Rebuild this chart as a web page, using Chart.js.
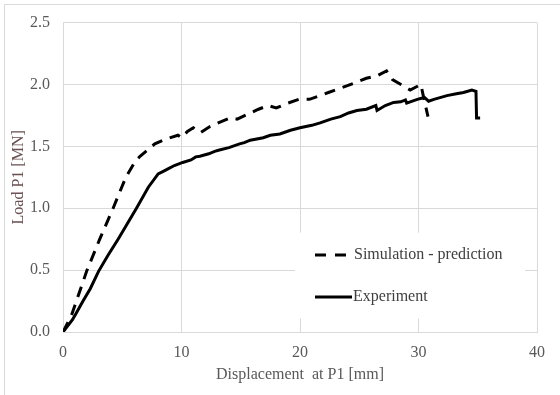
<!DOCTYPE html>
<html>
<head>
<meta charset="utf-8">
<script src="https://cdn.jsdelivr.net/npm/chart.js@4.4.1/dist/chart.umd.min.js"></script>
<style>
  html, body { margin: 0; padding: 0; background: #ffffff; }
  #wrap { width: 560px; height: 395px; position: relative; }
</style>
</head>
<body>
<div id="wrap"><canvas id="c" width="560" height="395"></canvas></div>
<script>
// ---- Data ----
const simX = [0, 0.7, 1.13, 2.03, 3.1, 4.23, 5.3, 6.1, 6.5, 7.0, 7.75, 8.7, 9.7, 10.0, 10.5, 11.0, 11.6, 12.4, 13.1, 14.1, 14.7, 15.6, 16.5, 17.3, 18.0, 19.0, 19.9, 20.8, 22.4, 24.0, 25.6, 26.5, 27.3, 27.8, 28.7, 29.3, 30.2, 30.4, 30.8];
const simY = [0, 0.13, 0.25, 0.5, 0.75, 1.0, 1.25, 1.38, 1.42, 1.46, 1.52, 1.56, 1.59, 1.57, 1.62, 1.65, 1.61, 1.66, 1.69, 1.73, 1.72, 1.76, 1.80, 1.83, 1.81, 1.85, 1.88, 1.88, 1.935, 1.99, 2.05, 2.07, 2.11, 2.04, 1.99, 1.955, 2.0, 1.91, 1.74];

const expX = [0, 0.8, 1.1, 1.69, 2.3, 3.0, 3.8, 4.65, 5.4, 6.2, 7.2, 8.03, 8.5, 8.9, 9.4, 10.1, 10.8, 11.2, 11.55, 12.3, 12.8, 13.2, 14.0, 14.9, 15.3, 15.8, 16.9, 17.5, 18.3, 19.2, 20.0, 21.0, 21.7, 22.3, 22.6, 23.4, 24.1, 24.8, 25.6, 26.4, 26.5, 27.2, 27.9, 28.5, 28.9, 29.0, 29.9, 30.5, 30.85, 31.3, 32.4, 33.2, 33.8, 34.5, 34.85, 34.9, 35.2];
const expY = [0, 0.1, 0.15, 0.25, 0.35, 0.49, 0.62, 0.75, 0.87, 1.0, 1.17, 1.277, 1.30, 1.32, 1.345, 1.37, 1.39, 1.415, 1.42, 1.44, 1.46, 1.47, 1.49, 1.52, 1.53, 1.55, 1.57, 1.59, 1.60, 1.63, 1.65, 1.67, 1.69, 1.71, 1.72, 1.74, 1.77, 1.79, 1.80, 1.83, 1.79, 1.83, 1.855, 1.86, 1.875, 1.85, 1.88, 1.895, 1.865, 1.88, 1.91, 1.925, 1.935, 1.955, 1.945, 1.73, 1.73];

const xTicks = [0, 10, 20, 30, 40];
const yTicks = [0.0, 0.5, 1.0, 1.5, 2.0, 2.5];
const seriesNames = ['Simulation - prediction', 'Experiment'];
const xTitle = 'Displacement  at P1 [mm]';
const yTitle = 'Load P1 [MN]';

const FONT = "'Liberation Serif', 'Times New Roman', serif";

function pts(xs, ys) { return xs.map((x, i) => ({ x: x, y: ys[i] })); }

const borderPlugin = {
  id: 'outerBorder',
  beforeDraw(chart) {
    const ctx = chart.ctx;
    ctx.save();
    ctx.fillStyle = '#ffffff';
    ctx.fillRect(0, 0, chart.width, chart.height);
    ctx.strokeStyle = '#d9d9d9';
    ctx.lineWidth = 1;
    ctx.strokeRect(4.5, 4.5, 700, 700);
    ctx.restore();
  }
};

const legendPlugin = {
  id: 'boxLegend',
  beforeDatasetsDraw(chart) {
    const ctx = chart.ctx;
    const a = chart.chartArea;
    const bx = a.left + 232, by = a.top + 210, bw = 230, bh = 86;
    ctx.save();
    ctx.fillStyle = '#ffffff';
    ctx.fillRect(bx, by, bw, bh);
    ctx.strokeStyle = '#000000';
    ctx.lineWidth = 3;
    ctx.setLineDash([11, 9]);
    ctx.beginPath();
    ctx.moveTo(bx + 20, by + 22.5);
    ctx.lineTo(bx + 53, by + 22.5);
    ctx.stroke();
    ctx.setLineDash([]);
    ctx.beginPath();
    ctx.moveTo(bx + 20, by + 64.5);
    ctx.lineTo(bx + 57, by + 64.5);
    ctx.stroke();
    ctx.fillStyle = '#404040';
    ctx.font = '16px ' + FONT;
    ctx.textBaseline = 'middle';
    ctx.textAlign = 'left';
    ctx.fillText(seriesNames[0], bx + 59, by + 22);
    ctx.fillText(seriesNames[1], bx + 58, by + 64);
    ctx.restore();
  }
};

new Chart(document.getElementById('c'), {
  type: 'scatter',
  data: {
    datasets: [
      {
        label: seriesNames[0],
        data: pts(simX, simY),
        showLine: true,
        borderColor: '#000000',
        borderWidth: 3,
        borderDash: [11, 8],
        pointRadius: 0,
        tension: 0,
        fill: false
      },
      {
        label: seriesNames[1],
        data: pts(expX, expY),
        showLine: true,
        borderColor: '#000000',
        borderWidth: 3,
        pointRadius: 0,
        tension: 0,
        fill: false
      }
    ]
  },
  options: {
    responsive: false,
    animation: false,
    devicePixelRatio: 1,
    layout: { padding: { top: 22, right: 23, left: 0, bottom: 0 } },
    plugins: {
      legend: { display: false },
      tooltip: { enabled: false }
    },
    scales: {
      x: {
        type: 'linear',
        min: 0, max: 40,
        afterBuildTicks(scale) { scale.ticks = xTicks.map(v => ({ value: v })); },
        afterFit(scale) { scale.height = 63; },
        grid: { color: '#d9d9d9', lineWidth: 1, drawTicks: false },
        border: { color: '#d9d9d9', width: 1 },
        ticks: {
          color: '#595959',
          font: { family: FONT, size: 16 },
          padding: 11,
          maxRotation: 0,
          callback: v => String(v)
        },
        title: {
          display: true,
          text: xTitle,
          color: '#595959',
          font: { family: FONT, size: 16 },
          padding: { top: 11, bottom: 11 }
        }
      },
      y: {
        type: 'linear',
        min: 0, max: 2.5,
        afterBuildTicks(scale) { scale.ticks = yTicks.map(v => ({ value: v })); },
        afterFit(scale) { scale.width = 63; },
        grid: { color: '#d9d9d9', lineWidth: 1, drawTicks: false },
        border: { color: '#d9d9d9', width: 1 },
        ticks: {
          color: '#595959',
          font: { family: FONT, size: 16 },
          padding: 13,
          callback: v => Number(v).toFixed(1)
        },
        title: {
          display: true,
          text: yTitle,
          color: '#6a5050',
          font: { family: FONT, size: 16 },
          padding: { top: 9, bottom: 9 }
        }
      }
    }
  },
  plugins: [borderPlugin, legendPlugin]
});
</script>
</body>
</html>
